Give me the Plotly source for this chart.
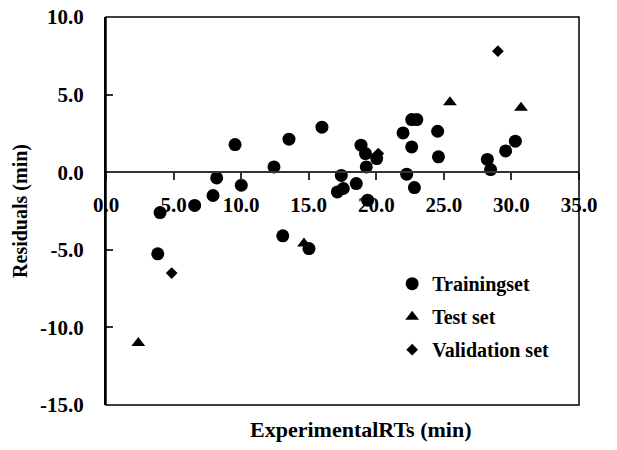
import plotly.graph_objects as go

# residuals vs experimental retention times (min)
train_x = [3.83, 4.00, 6.56, 7.92, 8.19, 9.55, 10.01, 12.43, 13.08, 13.54, 15.02, 15.98,
           17.12, 17.41, 17.56, 18.52, 18.87, 19.2, 19.26, 19.36, 20.03, 21.98, 22.25,
           22.62, 22.62, 22.82, 23.0, 24.54, 24.6, 28.22, 28.46, 29.57, 30.29]
train_y = [-5.26, -2.6, -2.14, -1.5, -0.37, 1.78, -0.84, 0.34, -4.1, 2.13, -4.92, 2.9,
           -1.27, -0.21, -1.05, -0.73, 1.74, 1.2, 0.34, -1.8, 0.88, 2.53, -0.13,
           3.39, 1.63, -0.99, 3.39, 2.64, 0.99, 0.82, 0.17, 1.37, 2.0]

test_x = [2.39, 14.65, 25.45, 30.71]
test_y = [-11.0, -4.6, 4.5, 4.15]

valid_x = [4.86, 20.15, 29.0]
valid_y = [-6.5, 1.2, 7.8]

x_ticks = [0, 5, 10, 15, 20, 25, 30, 35]
x_labels = ["0.0", "5.0", "10.0", "15.0", "20.0", "25.0", "30.0", "35.0"]
y_ticks = [-15, -10, -5, 0, 5, 10]
y_labels = ["-15.0", "-10.0", "-5.0", "0.0", "5.0", "10.0"]

serif = "Liberation Serif, Times New Roman, serif"
font = dict(family=serif, size=20, color="black", weight="bold")
tick_font = dict(family=serif, size=21, color="black", weight="bold")

fig = go.Figure()

fig.add_trace(go.Scatter(x=train_x, y=train_y, mode="markers", name="Trainingset",
                         legendgroup="a", marker=dict(symbol="circle", size=13, color="black")))
fig.add_trace(go.Scatter(x=test_x, y=test_y, mode="markers", name="Test set",
                         legendgroup="b", marker=dict(symbol="triangle-up", size=12, color="black")))
fig.add_trace(go.Scatter(x=valid_x, y=valid_y, mode="markers", name="Validation set",
                         legendgroup="c", marker=dict(symbol="diamond", size=9, color="black")))

fig.update_layout(
    width=617, height=450,
    margin=dict(l=106, r=38, t=17, b=45, autoexpand=False),
    plot_bgcolor="white", paper_bgcolor="white",
    font=font,
    legend=dict(x=0.605, y=0.363, xanchor="left", yanchor="top", bgcolor="rgba(0,0,0,0)",
                font=font, tracegroupgap=4, itemwidth=30),
)

fig.update_xaxes(
    range=[0, 35], tickvals=x_ticks, ticktext=x_labels, tickfont=tick_font,
    anchor="free", position=0.6, showline=True, linecolor="#333", linewidth=2,
    ticks="outside", ticklen=7, tickcolor="#333", tickwidth=1.5,
    showgrid=False, zeroline=False, ticklabelstandoff=7, automargin=False,
)
fig.update_yaxes(
    range=[-15, 10], tickvals=y_ticks, ticktext=y_labels, tickfont=tick_font,
    showline=True, linecolor="black", linewidth=2,
    ticks="inside", ticklen=7, tickcolor="#333", tickwidth=1.5,
    showgrid=False, zeroline=False, ticklabelstandoff=16, automargin=False,
)

# frame round the plot area
fig.add_shape(type="rect", xref="paper", yref="paper", x0=0, x1=1, y0=0, y1=1,
              line=dict(color="black", width=1.5), layer="above")

fig.add_annotation(text="ExperimentalRTs (min)", xref="paper", yref="paper",
                   x=0.539, y=-0.064, showarrow=False, xanchor="center", yanchor="middle",
                   font=dict(family=serif, size=22, color="black", weight="bold"))
fig.add_annotation(text="Residuals (min)", xref="paper", yref="paper",
                   x=-0.182, y=0.5, textangle=-90, showarrow=False,
                   xanchor="center", yanchor="middle", font=font)

fig.write_html("out.html", config={"displayModeBar": False},
               post_script="document.body.style.margin='0';")
